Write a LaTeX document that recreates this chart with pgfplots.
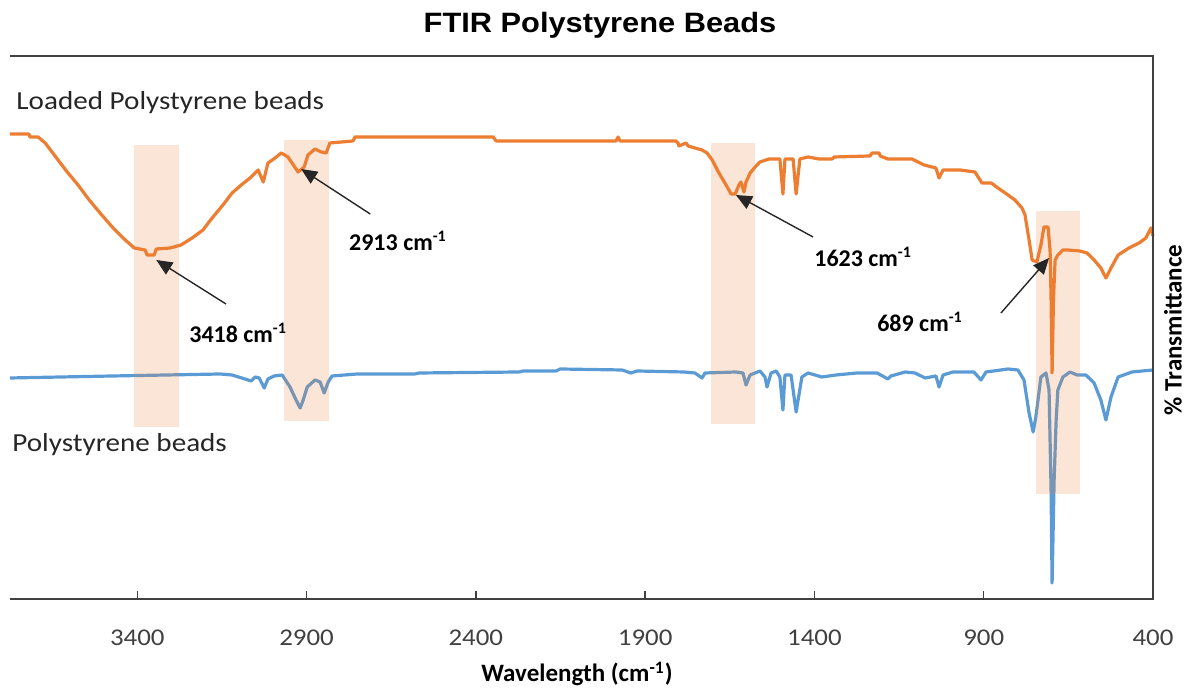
\documentclass[border=0pt]{standalone}
\usepackage{fontspec}
\setmainfont{Carlito}
\newfontfamily\titlefont[FakeStretch=1.1]{Liberation Sans}
\newfontfamily\lblfont[FakeStretch=1.12]{Carlito}
\usepackage{pgfplots}
\pgfplotsset{compat=1.18}
\usetikzlibrary{arrows.meta}
\definecolor{orangeC}{HTML}{ED7D31}
\definecolor{blueC}{HTML}{5B9BD5}
\definecolor{axisgray}{HTML}{404040}
\definecolor{txtgray}{HTML}{262626}

\pgfplotstableread{
x y
3776 221
3474 223
3155 225
3120 224
3082 220
3064 218
3052 222
3040 221
3025 211
3014 220
2996 223
2972 224
2949 212
2931 199
2919 191
2910 199
2898 212
2875 219
2860 217
2848 206
2836 217
2825 223
2751 225
2580 225
2568 226
2272 227
2261 228
2163 228
2151 230
1968 229
1942 226
1924 228
1785 227
1753 226
1732 221
1723 226
1632 227
1611 226
1602 214
1590 224
1561 228
1546 222
1540 212
1528 226
1513 228
1502 222
1493 189
1487 224
1469 224
1454 187
1437 222
1419 226
1378 222
1336 224
1274 226
1215 226
1183 220
1174 223
1132 227
1103 226
1073 221
1041 223
1032 212
1020 224
991 227
929 227
908 219
893 227
828 230
799 229
781 219
766 186
754 167
746 182
731 222
716 226
707 209
701 109
698 16
692 119
686 179
681 209
666 222
645 227
624 224
598 224
574 216
554 199
539 179
524 202
503 222
462 227
432 228
400 229
}\bluedata

\pgfplotstableread{
x y
3776 465
3720 465
3717 462
3693 462
3672 456
3634 439
3607 427
3575 414
3542 399
3510 386
3474 372
3442 361
3409 351
3377 349
3371 344
3350 344
3344 350
3303 351
3271 354
3238 361
3206 369
3179 381
3147 394
3120 406
3093 414
3067 421
3043 429
3028 417
3014 436
2993 441
2975 446
2955 442
2925 427
2907 432
2896 444
2875 450
2857 447
2842 446
2831 456
2763 458
2757 462
2349 462
2340 458
1986 458
1980 462
1974 458
1809 458
1803 456
1800 453
1779 456
1773 453
1753 451
1732 449
1717 446
1702 439
1682 426
1661 414
1646 405
1634 405
1623 414
1617 417
1608 407
1602 417
1590 426
1575 432
1561 437
1534 440
1502 440
1493 405
1487 440
1463 440
1454 405
1443 440
1419 442
1386 440
1348 440
1342 442
1236 443
1230 446
1209 446
1206 443
1183 440
1112 440
1076 434
1041 431
1032 421
1020 429
970 429
926 427
905 416
878 416
858 411
828 404
808 399
787 391
778 384
766 359
757 339
743 337
731 354
722 372
710 372
704 349
701 300
698 226
694 300
689 339
681 344
666 349
651 349
616 348
595 346
574 339
554 331
539 321
524 331
503 344
471 351
441 356
421 361
406 371
400 363
}\orangedata

\begin{document}
\begin{tikzpicture}
\useasboundingbox (0,0) rectangle (594.5pt,344.5pt);
\begin{axis}[
  at={(5pt,45pt)}, anchor=south west,
  scale only axis, width=571.5pt, height=271.5pt,
  xmin=400, xmax=3776, ymin=0, ymax=543,
  x dir=reverse,
  clip=false,
  axis line style={draw=none},
  ytick=\empty,
  xtick={400,900,1400,1900,2400,2900,3400},
  xticklabels={400,900,1400,1900,2400,2900,3400},
  xtick pos=bottom,
  tick align=inside,
  major tick length=4pt,
  xtick style={axisgray, line width=0.7pt},
  xticklabel style={font=\lblfont\fontsize{12}{12}\selectfont, text=axisgray, yshift=-12pt},
]
\addplot[blueC, line width=1.6pt, line join=round, no markers] table[x=x,y=y] {\bluedata};
\addplot[orangeC, line width=1.6pt, line join=round, no markers] table[x=x,y=y] {\orangedata};

\fill[orangeC, fill opacity=0.2] (axis cs:3409,172) rectangle (axis cs:3277,454);
\fill[orangeC, fill opacity=0.2] (axis cs:2966,178) rectangle (axis cs:2834,459);
\fill[orangeC, fill opacity=0.2] (axis cs:1705,175) rectangle (axis cs:1575,456);
\fill[orangeC, fill opacity=0.2] (axis cs:746,105) rectangle (axis cs:616,388);

\draw[black!85, line width=0.7pt, -{Triangle[length=8pt,width=7pt]}] (axis cs:3138,295) -- (axis cs:3344,339);
\draw[black!85, line width=0.7pt, -{Triangle[length=8pt,width=7pt]}] (axis cs:2712,385) -- (axis cs:2916,430);
\draw[black!85, line width=0.7pt, -{Triangle[length=8pt,width=7pt]}] (axis cs:1404,362) -- (axis cs:1632,404);
\draw[black!85, line width=0.7pt, -{Triangle[length=8pt,width=7pt]}] (axis cs:849,286) -- (axis cs:707,341);

\node[font=\bfseries\fontsize{12}{12}\selectfont] at (axis cs:3102,266) {3418 cm\textsuperscript{-1}};
\node[font=\bfseries\fontsize{12}{12}\selectfont] at (axis cs:2630,358) {2913 cm\textsuperscript{-1}};
\node[font=\bfseries\fontsize{12}{12}\selectfont] at (axis cs:1256,342) {1623 cm\textsuperscript{-1}};
\node[font=\bfseries\fontsize{12}{12}\selectfont] at (axis cs:1088,277) {689 cm\textsuperscript{-1}};

\node[anchor=west, inner sep=0pt, text=txtgray, font=\lblfont\fontsize{13}{13}\selectfont] at (axis cs:3758,496) {Loaded Polystyrene beads};
\node[anchor=west, inner sep=0pt, text=txtgray, font=\lblfont\fontsize{13}{13}\selectfont] at (axis cs:3770,154) {Polystyrene beads};

\draw[axisgray, line width=0.75pt] (axis cs:3776,0) -- (axis cs:400,0) -- (axis cs:400,543) -- (axis cs:3776,543);
\end{axis}
\node[font=\titlefont\bfseries\fontsize{14}{14}\selectfont] at (300pt,332pt) {FTIR Polystyrene Beads};
\node[font=\bfseries\fontsize{12.5}{12.5}\selectfont] at (288.5pt,7.5pt) {Wavelength (cm\textsuperscript{-1})};
\node[font=\bfseries\fontsize{12.5}{12.5}\selectfont, rotate=90] at (586.5pt,179.5pt) {\% Transmittance};
\end{tikzpicture}
\end{document}
